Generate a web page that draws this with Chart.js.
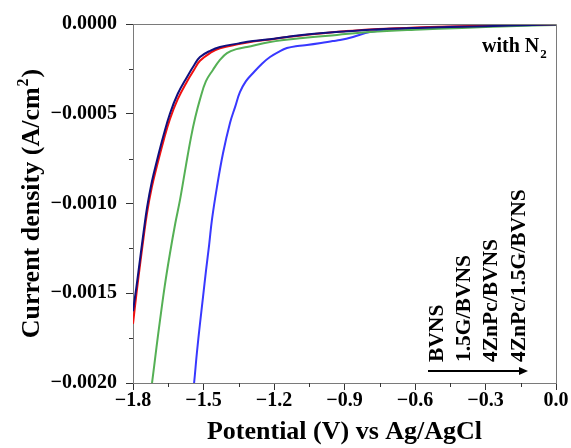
<!DOCTYPE html>
<html>
<head>
<meta charset="utf-8">
<script src="https://cdn.jsdelivr.net/npm/chart.js@4.4.0/dist/chart.umd.min.js"></script>
<style>
html,body{margin:0;padding:0;background:#fff;}
#wrap{width:571px;height:448px;position:relative;}
</style>
</head>
<body>
<div id="wrap"><canvas id="c" width="571" height="448"></canvas></div>
<script>
// ---- data ----
const seriesNames = ["BVNS", "1.5G/BVNS", "4ZnPc/BVNS", "4ZnPc/1.5G/BVNS"];
const xTickValues = [-1.8, -1.5, -1.2, -0.9, -0.6, -0.3, 0.0];
const yTickValues = [0, -0.0005, -0.0010, -0.0015, -0.0020];

const bvnsX = [-1.8, -1.785, -1.77, -1.755, -1.74, -1.72, -1.698, -1.67, -1.643, -1.61, -1.57, -1.54, -1.515, -1.47, -1.43, -1.35, -1.289, -1.2, -1.145, -1.05, -0.9, -0.792, -0.6, -0.4, -0.2, 0];
const bvnsY = [-0.00160, -0.00146, -0.00131, -0.00116, -0.00102, -0.00088, -0.00076, -0.00062, -0.00050, -0.00039, -0.000295, -0.00023, -0.000184, -0.000148, -0.000128, -0.000108, -0.000095, -0.000082, -0.000072, -0.000057, -0.000042, -0.000032, -0.000022, -0.000015, -0.000009, -0.000003];

const gBvnsX = [-1.8, -1.785, -1.77, -1.755, -1.74, -1.72, -1.698, -1.67, -1.643, -1.61, -1.57, -1.54, -1.515, -1.47, -1.43, -1.35, -1.289, -1.2, -1.145, -1.05, -0.9, -0.792, -0.6, -0.4, -0.2, 0];
const gBvnsY = [-0.00167, -0.00150, -0.00134, -0.00119, -0.00105, -0.00091, -0.00079, -0.00065, -0.00053, -0.00042, -0.00032, -0.000255, -0.000205, -0.000160, -0.000135, -0.000112, -0.000098, -0.000083, -0.000073, -0.000058, -0.000040, -0.000030, -0.000020, -0.000012, -0.000006, -0.000002];

const znX = [-1.725, -1.719, -1.70, -1.685, -1.665, -1.643, -1.62, -1.60, -1.575, -1.553, -1.535, -1.515, -1.49, -1.46, -1.43, -1.40, -1.36, -1.315, -1.217, -1.077, -0.932, -0.792, -0.6, -0.4, -0.2, 0];
const znY = [-0.00205, -0.0020, -0.00180, -0.00165, -0.00146, -0.00128, -0.00111, -0.00098, -0.00079, -0.00063, -0.00052, -0.00042, -0.00032, -0.000256, -0.000200, -0.000162, -0.000140, -0.000128, -0.000100, -0.000078, -0.000061, -0.000045, -0.000032, -0.000022, -0.000012, -0.000005];

const znGX = [-1.545, -1.540, -1.528, -1.515, -1.502, -1.489, -1.476, -1.464, -1.443, -1.417, -1.387, -1.365, -1.345, -1.32, -1.289, -1.25, -1.217, -1.18, -1.145, -1.10, -1.06, -1.0, -0.95, -0.919, -0.864, -0.792, -0.7, -0.5, -0.3, 0];
const znGY = [-0.00205, -0.0020, -0.00183, -0.00167, -0.00152, -0.00137, -0.00123, -0.00109, -0.00091, -0.00072, -0.00055, -0.00046, -0.00038, -0.00032, -0.000273, -0.00022, -0.000184, -0.000155, -0.000134, -0.000122, -0.000117, -0.000106, -0.000095, -0.000089, -0.000072, -0.000045, -0.000030, -0.000018, -0.000011, -0.000004];

const seriesColors = ["#10107f", "#f01010", "#55b055", "#3838ff"];

function pts(xs, ys){ return xs.map((x,i)=>({x:x, y:ys[i]})); }
function minusFmt(s){ return s.replace('-', '\u2212'); }

const FONT = "'Liberation Serif', 'Times New Roman', serif";

const decor = {
  id: 'decor',
  afterDraw(chart){
    const ctx = chart.ctx, a = chart.chartArea;
    const xs = chart.scales.x, ys = chart.scales.y;
    ctx.save();
    // frame top/right
    ctx.strokeStyle = '#7a7a7a'; ctx.lineWidth = 1;
    ctx.beginPath();
    ctx.moveTo(a.left, a.top+0.5); ctx.lineTo(a.right+0.5, a.top+0.5); ctx.lineTo(a.right+0.5, a.bottom);
    ctx.stroke();
    // minor ticks
    ctx.strokeStyle = '#333';
    ctx.beginPath();
    for (let i=0;i<xTickValues.length-1;i++){
      const v = (xTickValues[i]+xTickValues[i+1])/2;
      const px = Math.round(xs.getPixelForValue(v))+0.5;
      ctx.moveTo(px, a.bottom); ctx.lineTo(px, a.bottom+4);
    }
    for (let i=0;i<yTickValues.length-1;i++){
      const v = (yTickValues[i]+yTickValues[i+1])/2;
      const py = Math.round(ys.getPixelForValue(v))+0.5;
      ctx.moveTo(a.left-4, py); ctx.lineTo(a.left, py);
    }
    ctx.stroke();
    // y title
    ctx.fillStyle = '#000';
    ctx.save();
    ctx.translate(39, (a.top + a.bottom)/2);
    ctx.rotate(-Math.PI/2);
    ctx.font = 'bold 26px ' + FONT;
    ctx.textBaseline = 'alphabetic';
    const main = 'Current density (A/cm';
    const wMain = ctx.measureText(main).width;
    ctx.font = 'bold 16px ' + FONT;
    const wSup = ctx.measureText('2').width;
    ctx.font = 'bold 26px ' + FONT;
    const wClose = ctx.measureText(')').width;
    let sx = -(wMain + wSup + wClose + 2)/2;
    ctx.textAlign = 'left';
    ctx.fillText(main, sx, 0);
    ctx.font = 'bold 16px ' + FONT;
    ctx.fillText('2', sx + wMain + 1, -11);
    ctx.font = 'bold 26px ' + FONT;
    ctx.fillText(')', sx + wMain + wSup + 2, 0);
    ctx.restore();
    // with N2
    ctx.font = 'bold 20px ' + FONT;
    ctx.textAlign = 'left'; ctx.textBaseline = 'alphabetic';
    ctx.fillText('with N', 482, 52);
    const wN = ctx.measureText('with N').width;
    ctx.font = 'bold 13px ' + FONT;
    ctx.fillText('2', 482 + wN + 1, 58);
    // legend labels (rotated)
    const baseX = [443, 470, 497, 525];
    ctx.font = 'bold 21.5px ' + FONT;
    for (let i=0;i<seriesNames.length;i++){
      ctx.save();
      ctx.translate(baseX[i], 362);
      ctx.rotate(-Math.PI/2);
      ctx.textAlign = 'left'; ctx.textBaseline = 'alphabetic';
      ctx.fillText(seriesNames[i], 0, 0);
      ctx.restore();
    }
    // arrow
    ctx.strokeStyle = '#000'; ctx.lineWidth = 2;
    ctx.beginPath(); ctx.moveTo(428, 371); ctx.lineTo(522, 371); ctx.stroke();
    ctx.beginPath(); ctx.moveTo(528, 371); ctx.lineTo(519, 367); ctx.lineTo(519, 375); ctx.closePath(); ctx.fillStyle='#000'; ctx.fill();
    ctx.restore();
  }
};

new Chart(document.getElementById('c'), {
  type: 'line',
  data: {
    datasets: [
      {label: seriesNames[0], data: pts(bvnsX, bvnsY), borderColor: seriesColors[0]},
      {label: seriesNames[1], data: pts(gBvnsX, gBvnsY), borderColor: seriesColors[1]},
      {label: seriesNames[2], data: pts(znX, znY), borderColor: seriesColors[2]},
      {label: seriesNames[3], data: pts(znGX, znGY), borderColor: seriesColors[3]}
    ].map(d => Object.assign(d, {borderWidth: 2, pointRadius: 0, fill: false, tension: 0.4}))
  },
  options: {
    responsive: false,
    animation: false,
    layout: {padding: {top: 24, right: 15, left: 0, bottom: 0}},
    plugins: {legend: {display: false}, tooltip: {enabled: false}},
    scales: {
      x: {
        type: 'linear', min: -1.8, max: 0,
        afterBuildTicks(s){ s.ticks = xTickValues.map(v => ({value: v})); },
        afterFit(s){ s.height = 65; },
        ticks: {callback: v => minusFmt(Number(v).toFixed(1)), font: {family: FONT, weight: 'bold', size: 20}, color: '#000', padding: -1, maxRotation: 0, autoSkip: false},
        grid: {drawOnChartArea: false, drawTicks: true, tickLength: 7, color: '#333'},
        border: {display: true, color: '#7a7a7a', width: 1},
        title: {display: true, text: 'Potential (V) vs Ag/AgCl', font: {family: FONT, weight: 'bold', size: 26}, color: '#000', padding: {top: 0, bottom: 0}}
      },
      y: {
        type: 'linear', min: -0.002, max: 0,
        afterBuildTicks(s){ s.ticks = yTickValues.map(v => ({value: v})); },
        afterFit(s){ s.width = 133; },
        ticks: {callback: v => minusFmt((Math.abs(v) < 1e-12 ? 0 : Number(v)).toFixed(4)), font: {family: FONT, weight: 'bold', size: 20}, color: '#000', padding: 9, autoSkip: false},
        grid: {drawOnChartArea: false, drawTicks: true, tickLength: 7, color: '#333'},
        border: {display: true, color: '#7a7a7a', width: 1},
        title: {display: false}
      }
    }
  },
  plugins: [decor]
});
</script>
</body>
</html>
